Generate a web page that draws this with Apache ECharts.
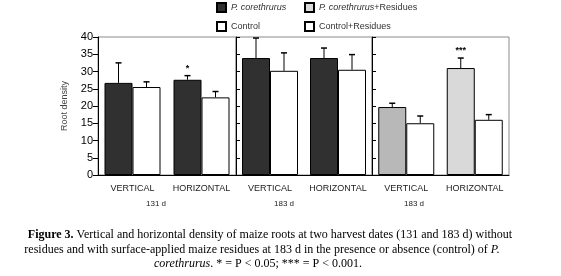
<!DOCTYPE html>
<html><head><meta charset="utf-8">
<script src="https://cdn.jsdelivr.net/npm/echarts@6/dist/echarts.min.js"></script>
<style>html,body{margin:0;padding:0;background:#fff}#c{width:561px;height:276px}</style>
</head><body><div id="c"></div>
<script>
// ---- data ----
const categories = ['VERTICAL', 'HORIZONTAL'];
const panelLabels = ['131 d', '183 d', '183 d'];
const yTicks = [0, 5, 10, 15, 20, 25, 30, 35, 40];
// Panel 1 (131 d)
const p1Pcor = [26.7, 27.6];      const p1PcorErr = [32.5, 28.8];
const p1Ctrl = [25.5, 22.5];      const p1CtrlErr = [27.0, 24.2];
const p1Sig = ['', '*'];
// Panel 2 (183 d)
const p2Pcor = [33.9, 33.9];      const p2PcorErr = [39.7, 36.8];
const p2Ctrl = [30.2, 30.5];      const p2CtrlErr = [35.4, 34.9];
const p2Sig = ['', ''];
// Panel 3 (183 d, with residues)
const p3PcorRes = [19.7, 31.0];   const p3PcorResErr = [20.8, 33.9];
const p3CtrlRes = [15.0, 16.0];   const p3CtrlResErr = [17.1, 17.5];
const p3Sig = ['', '***'];

// ---- styles / layout ----
const BAR = 28;
const DARK = '#303030', LIGHT = '#d9d9d9', MID = '#b8b8b8', WHITE = '#ffffff';
const grids = [
  {left: 98, width: 138, top: 37, height: 138},
  {left: 236, width: 136, top: 37, height: 138},
  {left: 372, width: 137, top: 37, height: 138}
];

const chart = echarts.init(document.getElementById('c'), null, {renderer: 'canvas'});

function xAx(i) {
  return {type: 'category', gridIndex: i, data: categories,
    axisLine: {lineStyle: {color: '#000', width: 1}},
    axisTick: {alignWithLabel: true, length: 4, lineStyle: {color: '#000'}},
    axisLabel: {interval: 0, color: '#222', fontSize: 9, fontFamily: 'Arial, Liberation Sans', margin: 9}};
}
function yAx(i) {
  return {type: 'value', gridIndex: i, min: yTicks[0], max: yTicks[yTicks.length - 1], interval: 5,
    name: i === 0 ? 'Root density' : '', nameLocation: 'middle', nameGap: 29,
    nameTextStyle: {color: '#444', fontSize: 9, fontFamily: 'Arial, Liberation Sans'},
    axisLine: {show: true, lineStyle: {color: '#000', width: 1}},
    axisTick: {show: true, inside: i !== 0, length: i === 0 ? 5 : 4, lineStyle: {color: '#000'}},
    axisLabel: {show: i === 0, color: '#000', fontSize: 11, fontFamily: 'Arial, Liberation Sans', margin: 5},
    splitLine: {show: false}};
}
function barSeries(name, gi, vals, color, itemColors) {
  return {type: 'bar', name: name, xAxisIndex: gi, yAxisIndex: gi, barWidth: BAR, barGap: '0%',
    itemStyle: {color: color, borderColor: '#000', borderWidth: 1},
    data: vals.map((v, k) => itemColors ? {value: v, itemStyle: {color: itemColors[k]}} : v)};
}
function errSeries(gi, side, means, highs, sig) {
  return {type: 'custom', xAxisIndex: gi, yAxisIndex: gi, z: 5, silent: true,
    data: means.map((m, k) => [k, m, highs[k]]),
    renderItem: function (params, api) {
      const c = api.coord([api.value(0), api.value(1)]);
      const t = api.coord([api.value(0), api.value(2)]);
      const x = c[0] + side * BAR / 2;
      const ch = [
        {type: 'line', shape: {x1: x, y1: c[1], x2: x, y2: t[1]}, style: {stroke: '#000', lineWidth: 1}},
        {type: 'line', shape: {x1: x - 3, y1: t[1], x2: x + 3, y2: t[1]}, style: {stroke: '#000', lineWidth: 1.5}}
      ];
      const s = sig ? sig[params.dataIndex] : '';
      if (s) ch.push({type: 'text', style: {text: s, x: x, y: t[1] - 3, align: 'center', verticalAlign: 'bottom',
        fill: '#000', font: 'bold 9px Arial, Liberation Sans'}});
      return {type: 'group', children: ch};
    }};
}

const legendText = {color: '#333', fontSize: 9, fontFamily: 'Arial, Liberation Sans',
  rich: {i: {fontStyle: 'italic', fontSize: 9, fontFamily: 'Arial, Liberation Sans', color: '#333'}}};
function legFmt(n) { return n.replace('P. corethrurus', '{i|P. corethrurus}'); }

const option = {
  animation: false,
  grid: grids.map(g => Object.assign({show: true, borderColor: '#8a8a8a', borderWidth: 1, backgroundColor: 'transparent'}, g)),
  legend: [
    {left: 211, top: -3, orient: 'vertical', itemGap: 8, itemWidth: 9, itemHeight: 9, icon: 'rect',
      data: ['P. corethrurus', 'Control'], formatter: legFmt, textStyle: legendText},
    {left: 299, top: -3, orient: 'vertical', itemGap: 8, itemWidth: 9, itemHeight: 9, icon: 'rect',
      data: ['P. corethrurus+Residues', 'Control+Residues'], formatter: legFmt, textStyle: legendText}
  ],
  xAxis: [xAx(0), xAx(1), xAx(2)],
  yAxis: [yAx(0), yAx(1), yAx(2)],
  series: [
    barSeries('P. corethrurus', 0, p1Pcor, DARK),
    barSeries('Control', 0, p1Ctrl, WHITE),
    barSeries('P. corethrurus', 1, p2Pcor, DARK),
    barSeries('Control', 1, p2Ctrl, WHITE),
    barSeries('P. corethrurus+Residues', 2, p3PcorRes, LIGHT, [MID, LIGHT]),
    barSeries('Control+Residues', 2, p3CtrlRes, WHITE),
    errSeries(0, -1, p1Pcor, p1PcorErr, p1Sig),
    errSeries(0, 1, p1Ctrl, p1CtrlErr, null),
    errSeries(1, -1, p2Pcor, p2PcorErr, p2Sig),
    errSeries(1, 1, p2Ctrl, p2CtrlErr, null),
    errSeries(2, -1, p3PcorRes, p3PcorResErr, p3Sig),
    errSeries(2, 1, p3CtrlRes, p3CtrlResErr, null)
  ],
  graphic: [
    {type: 'text', left: 146, top: 200, style: {text: panelLabels[0], fill: '#222', font: '8px Arial, Liberation Sans'}},
    {type: 'text', left: 274, top: 200, style: {text: panelLabels[1], fill: '#222', font: '8px Arial, Liberation Sans'}},
    {type: 'text', left: 404, top: 200, style: {text: panelLabels[2], fill: '#222', font: '8px Arial, Liberation Sans'}},
    {type: 'text', x: 270, y: 235, style: {
      text: '{b|Figure 3.} Vertical and horizontal density of maize roots at two harvest dates (131 and 183 d) without',
      align: 'center', verticalAlign: 'middle', fill: '#000', font: '12px Liberation Serif, Times New Roman, serif',
      rich: {b: {fontWeight: 'bold', fontSize: 12, fontFamily: 'Liberation Serif'}}}},
    {type: 'text', x: 262, y: 250, style: {
      text: 'residues and with surface-applied maize residues at 183 d in the presence or absence (control) of {i|P.}',
      align: 'center', verticalAlign: 'middle', fill: '#000', font: '12px Liberation Serif, Times New Roman, serif',
      rich: {i: {fontStyle: 'italic', fontSize: 12, fontFamily: 'Liberation Serif'}}}},
    {type: 'text', x: 258, y: 264, style: {
      text: '{i|corethrurus}. * = P < 0.05; *** = P < 0.001.',
      align: 'center', verticalAlign: 'middle', fill: '#000', font: '12px Liberation Serif, Times New Roman, serif',
      rich: {i: {fontStyle: 'italic', fontSize: 12, fontFamily: 'Liberation Serif'}}}}
  ]
};
chart.setOption(option);
</script></body></html>
